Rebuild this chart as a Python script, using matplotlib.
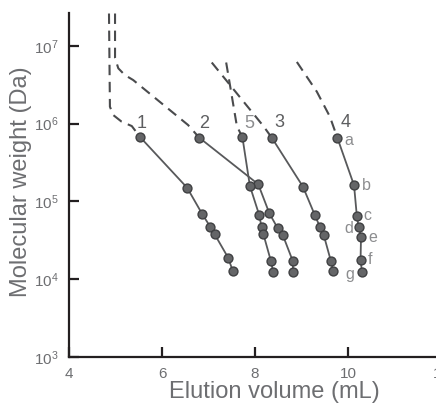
import matplotlib
matplotlib.use("Agg")
import matplotlib.pyplot as plt

plt.rcParams['font.family'] = ['Liberation Sans', 'DejaVu Sans']

# ---- data (elution volume mL, molecular weight Da) ----
s1_x = [5.53, 6.54, 6.87, 7.04, 7.13, 7.42, 7.52]
s1_y = [6.7e5, 1.50e5, 6.8e4, 4.7e4, 3.8e4, 1.9e4, 1.29e4]
s2_x = [6.80, 8.07, 8.31, 8.49, 8.60, 8.81, 8.82]
s2_y = [6.6e5, 1.66e5, 7.0e4, 4.5e4, 3.66e4, 1.73e4, 1.25e4]
s5_x = [7.73, 7.89, 8.09, 8.14, 8.18, 8.34, 8.39]
s5_y = [6.65e5, 1.58e5, 6.7e4, 4.7e4, 3.8e4, 1.73e4, 1.25e4]
s3_x = [8.36, 9.03, 9.29, 9.40, 9.48, 9.63, 9.68]
s3_y = [6.6e5, 1.55e5, 6.6e4, 4.65e4, 3.66e4, 1.73e4, 1.29e4]
s4_x = [9.77, 10.13, 10.19, 10.23, 10.28, 10.27, 10.30]
s4_y = [6.6e5, 1.61e5, 6.5e4, 4.65e4, 3.52e4, 1.77e4, 1.25e4]

# dashed upper extensions
d1_x = [4.86, 4.88, 4.95, 5.13, 5.35, 5.53]
d1_y = [2.6e7, 1.65e6, 1.29e6, 1.06e6, 9.3e5, 6.7e5]
d2_x = [4.99, 4.99, 5.06, 5.20, 5.38, 6.56, 6.80]
d2_y = [2.6e7, 6.97e6, 5.14e6, 4.21e6, 3.63e6, 9.6e5, 6.6e5]
d5_x = [7.38, 7.61, 7.73]
d5_y = [6.1e6, 9.3e5, 6.65e5]
d3_x = [7.07, 8.18, 8.36]
d3_y = [6.1e6, 9.3e5, 6.6e5]
d4_x = [8.90, 9.33, 9.61, 9.77]
d4_y = [6.2e6, 2.57e6, 1.23e6, 6.6e5]

series_names = ['1', '2', '5', '3', '4']
point_labels = ['a', 'b', 'c', 'd', 'e', 'f', 'g']
x_ticks = [4, 6, 8, 10, 12]
y_ticks = [1e3, 1e4, 1e5, 1e6, 1e7]

LINE = '#58595b'
FACE = '#646567'
EDGE = '#3f4042'
DARKTXT = '#5d5e60'
LIGHTTXT = '#8c8d8f'
AXIS = '#231f20'
TICKTXT = '#6d6e71'

W, H = 436, 405
fig = plt.figure(figsize=(W / 100, H / 100), dpi=100)
ax = fig.add_axes([69 / W, 48 / H, 372 / W, 344 / H])
ax.set_yscale('log')
ax.set_xlim(4, 12)
ax.set_ylim(1e3, 2.64e7)

solid = [(s1_x, s1_y), (s2_x, s2_y), (s5_x, s5_y), (s3_x, s3_y), (s4_x, s4_y)]
dashed = [(d1_x, d1_y), (d2_x, d2_y), (d5_x, d5_y), (d3_x, d3_y), (d4_x, d4_y)]

for (dx, dy) in dashed:
    ax.plot(dx, dy, color='#4a4b4d', lw=1.5, dashes=(5, 3.2), zorder=2,
            clip_on=False)
for (sx, sy) in solid:
    ax.plot(sx, sy, color=LINE, lw=1.3, zorder=3)
    ax.plot(sx, sy, ls='none', marker='o', ms=6.4, mfc=FACE, mec=EDGE,
            mew=1.0, zorder=4)

# series number labels
num_offsets = [(1, 14), (5, 14), (7, 14), (8, 15), (8, 15)]
num_colors = [DARKTXT, DARKTXT, LIGHTTXT, DARKTXT, DARKTXT]
for name, (sx, sy), off, c in zip(series_names, solid, num_offsets, num_colors):
    ax.annotate(name, (sx[0], sy[0]), xytext=off, textcoords='offset pixels',
                ha='center', va='center', fontsize=13, color=c)

# letter labels for series 4
let_offsets = [(12, -3), (12, 0), (11, 0), (-10, -1), (12, -1), (9, 0), (-12, -3)]
for lab, x, y, off in zip(point_labels, s4_x, s4_y, let_offsets):
    ax.annotate(lab, (x, y), xytext=off, textcoords='offset pixels',
                ha='center', va='center', fontsize=11.5, color=LIGHTTXT)

for side in ['top', 'right']:
    ax.spines[side].set_visible(False)
for side in ['left', 'bottom']:
    ax.spines[side].set_color(AXIS)
    ax.spines[side].set_linewidth(1.6)

ax.set_xticks(x_ticks)
ax.set_xticklabels([str(t) for t in x_ticks])
ax.set_yticks(y_ticks)
ax.minorticks_off()
ax.tick_params(axis='both', direction='in', length=7.5, width=1.6,
               color=AXIS, labelcolor=TICKTXT, labelsize=11, pad=7.4)

fig.text(274 / W, 1 - 392 / H, 'Elution volume (mL)', ha='center', va='center',
         fontsize=17, color=TICKTXT)
fig.text(21 / W, 1 - 182 / H, 'Molecular weight (Da)', ha='center', va='center',
         rotation=90, fontsize=17, color=TICKTXT)

fig.savefig('out.png', dpi=100)
